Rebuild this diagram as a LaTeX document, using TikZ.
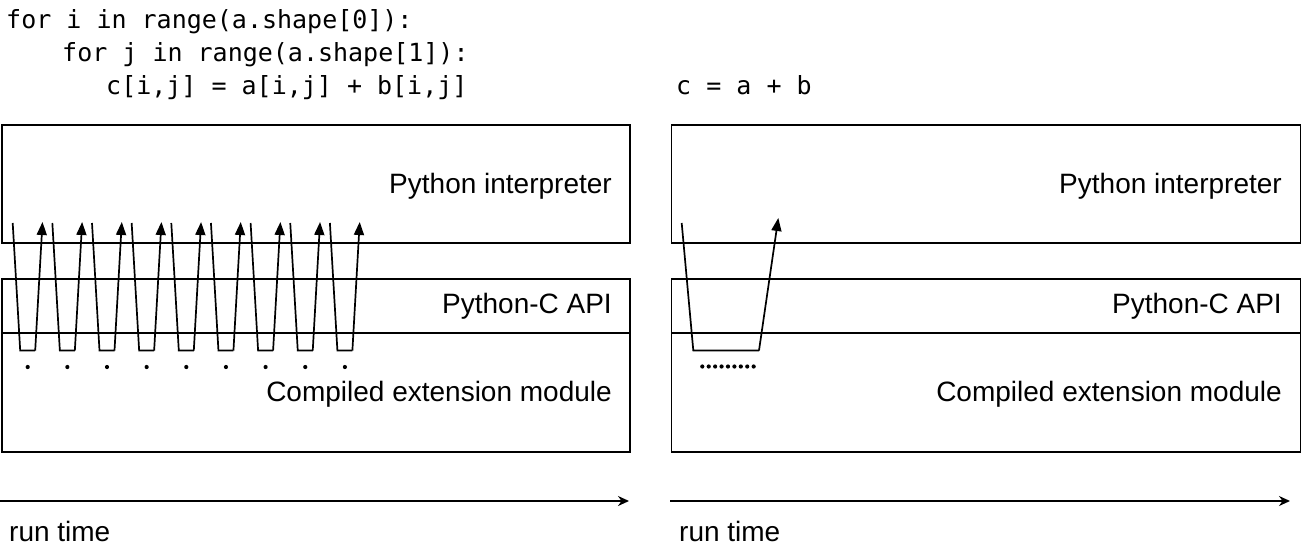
\documentclass[tikz,border=0pt]{standalone}
\usepackage{fontspec}
\setsansfont{Liberation Sans}
\setmonofont{DejaVu Sans Mono}
\usetikzlibrary{arrows.meta,positioning,calc}

\tikzset{
  layer/.style={draw, line width=1.7pt, rectangle, inner sep=0pt, anchor=north west},
  lab/.style={anchor=base east, inner sep=0pt, font=\fontsize{28}{32}\selectfont\sffamily},
  code/.style={anchor=base west, inner sep=0pt, font=\fontsize{25}{33}\selectfont\ttfamily},
  call/.style={line width=1.7pt, -{Triangle[length=13pt, width=10pt]}},
  timeline/.style={line width=1.7pt, -{Stealth[length=11pt, width=10pt]}}
}

\begin{document}
\begin{tikzpicture}[x=1pt, y=-1pt]
  \useasboundingbox (0,0) rectangle (1301,554);

  % loop version (left)
  \node[code] (loop1) at (6,28) {for i in range(a.shape[0]):};
  \node[code] (loop2) at (62,61) {for j in range(a.shape[1]):};
  \node[code] (loop3) at (106,94) {c[i,j] = a[i,j] + b[i,j]};

  \node[layer, minimum width=628pt, minimum height=118pt] (interpL) at (0.9,124) {};
  \node[layer, minimum width=628pt, minimum height=54pt] (apiL) at (0.9,278) {};
  \node[layer, minimum width=628pt, minimum height=119pt] (extL) at (0.9,332) {};
  \node[lab] (interpLlab) at (612,193) {Python interpreter};
  \node[lab] (apiLlab) at (612,313) {Python-C API};
  \node[lab] (extLlab) at (612,401) {Compiled extension module};

  \foreach \k in {0,...,8} {
    \pgfmathsetmacro{\xk}{12.7+\k*39.65}
    \coordinate (d\k) at (\xk,223);
    \coordinate (b\k) at (\xk+7.5,350.5);
    \coordinate (e\k) at (\xk+22.5,350.5);
    \coordinate (u\k) at (\xk+29.8,222);
    \draw[line width=1.7pt, line join=miter] (d\k) -- (b\k) -- (e\k);
    \draw[call] (e\k) -- (u\k);
    \fill ($(b\k)!0.5!(e\k)+(0,16.5)$) circle (2.1pt);
  }

  % vectorised version (right)
  \node[code] (vec) at (676,94) {c = a + b};

  \node[layer, minimum width=629pt, minimum height=118pt] (interpR) at (670.5,124) {};
  \node[layer, minimum width=629pt, minimum height=54pt] (apiR) at (670.5,278) {};
  \node[layer, minimum width=629pt, minimum height=119pt] (extR) at (670.5,332) {};
  \node[lab] (interpRlab) at (1282,193) {Python interpreter};
  \node[lab] (apiRlab) at (1282,313) {Python-C API};
  \node[lab] (extRlab) at (1282,401) {Compiled extension module};

  \coordinate (dR) at (681.7,223);
  \coordinate (bR) at (693.3,350.5);
  \coordinate (eR) at (759,350.5);
  \coordinate (uR) at (778.3,218);
  \draw[line width=1.7pt, line join=miter] (dR) -- (bR) -- (eR);
  \draw[call] (eR) -- (uR);
  \foreach \k in {0,...,8}
    \fill (702.3+\k*6.42,366.5) circle (2.1pt);

  % time axes
  \coordinate (t0L) at (0,501);
  \coordinate (t1L) at (629,501);
  \coordinate (t0R) at (670,501);
  \coordinate (t1R) at (1290,501);
  \draw[timeline] (t0L) -- (t1L);
  \draw[timeline] (t0R) -- (t1R);
  \node[lab, anchor=base west] (timeL) at (9,541) {run time};
  \node[lab, anchor=base west] (timeR) at (679,541) {run time};
\end{tikzpicture}
\end{document}
